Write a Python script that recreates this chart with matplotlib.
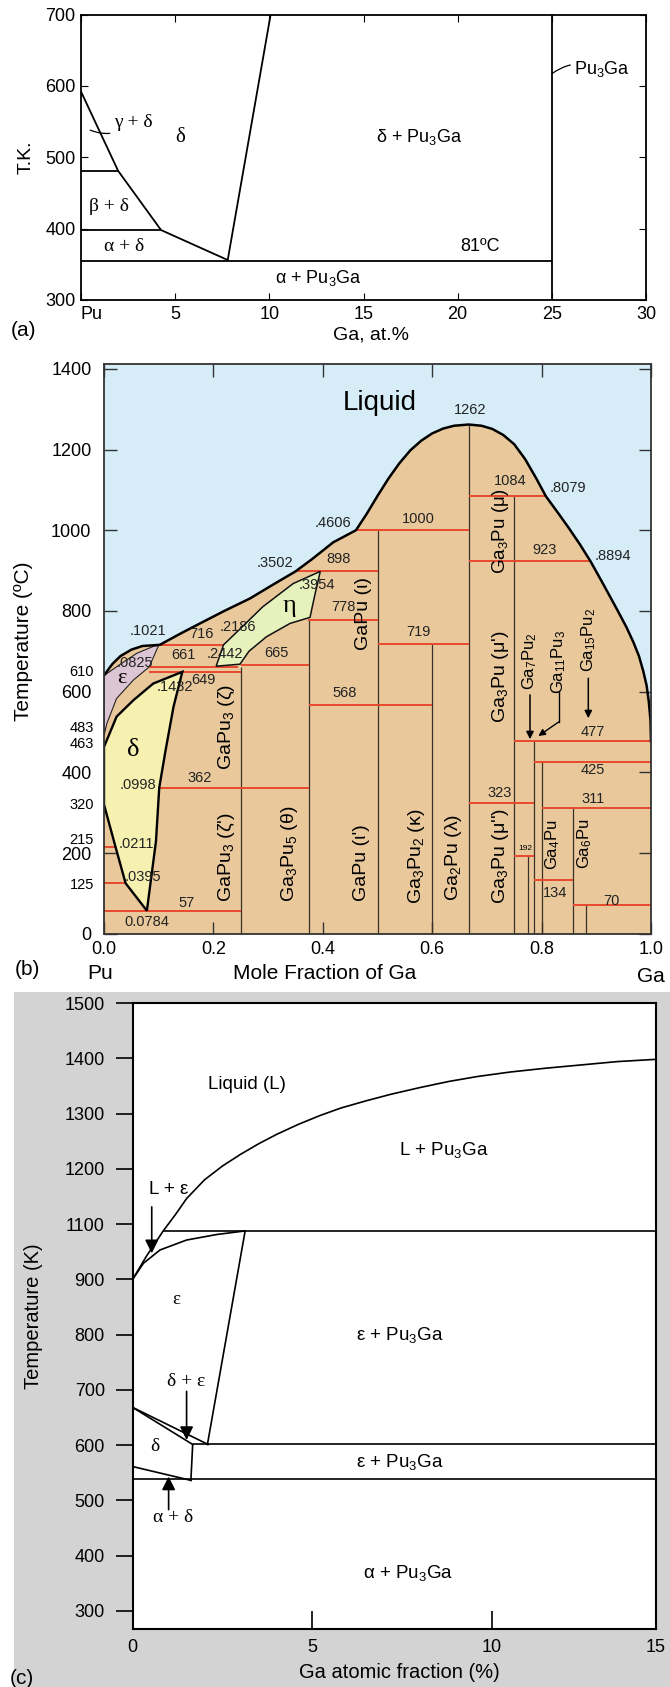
import numpy as np
import matplotlib
matplotlib.use("Agg")
import matplotlib.pyplot as plt
from matplotlib.patches import Polygon, Rectangle

plt.rcParams['font.family'] = ['Liberation Sans', 'DejaVu Sans']
plt.rcParams['mathtext.fontset'] = 'custom'
plt.rcParams['mathtext.rm'] = 'Liberation Sans'
plt.rcParams['mathtext.it'] = 'Liberation Sans:italic'
plt.rcParams['mathtext.bf'] = 'Liberation Sans:bold'

SERIF = ['Liberation Serif', 'DejaVu Serif']
NARROW = ['Liberation Sans Narrow', 'Liberation Sans']

# ---------------- panel (a) data : Pu-Ga low temperature (K) ----------------
a_bound_x = [0.0, 1.97, 4.25, 7.79]
a_bound_T = [592, 481, 398, 356]
a_solvus_x = [7.79, 10.07]
a_solvus_T = [356, 700]
a_iso_T = [481, 398, 355]
a_iso_x1 = [1.97, 4.25, 25.0]
a_pu3ga_x = 25.0
a_xticks = [0, 5, 10, 15, 20, 25, 30]
a_xticklabels = ['Pu', '5', '10', '15', '20', '25', '30']
a_yticks = [300, 400, 500, 600, 700]

# ---------------- panel (b) data : full Ga-Pu diagram (deg C) ----------------
b_liq_x = [0, 0.015, 0.03, 0.05, 0.07, 0.1021, 0.14, 0.1755, 0.22, 0.267, 0.31, 0.3502,
           0.38, 0.419, 0.4606, 0.48, 0.50, 0.52, 0.54, 0.56, 0.58, 0.60, 0.62, 0.64,
           0.6667, 0.69, 0.71, 0.73, 0.75, 0.77, 0.79, 0.8079, 0.83, 0.85, 0.87, 0.8894,
           0.91, 0.937, 0.955, 0.968, 0.978, 0.986, 0.992, 0.996, 0.999, 1.0]
b_liq_T = [640, 668, 688, 704, 713, 716, 744, 769, 800, 831, 866, 898,
           928, 970, 1000, 1040, 1085, 1128, 1166, 1198, 1222, 1240, 1252, 1259,
           1262, 1259, 1251, 1236, 1213, 1176, 1129, 1084, 1043, 1005, 965, 923,
           873, 806, 760, 722, 688, 650, 615, 575, 530, 477]

b_eps_x = [0, 0.03, 0.06, 0.09, 0.1, 0.0825, 0.054, 0.023, 0.005, 0]
b_eps_T = [640, 668, 695, 712, 715, 661, 629, 583, 520, 490]

b_delta_x = [0, 0.023, 0.054, 0.09, 0.1432, 0.127, 0.112, 0.101, 0.095, 0.0784, 0.0395, 0.0211, 0]
b_delta_T = [463, 538, 579, 620, 649, 562, 450, 362, 229, 57, 125, 215, 320]

b_eta_x = [0.205, 0.2186, 0.25, 0.29, 0.346, 0.3954, 0.386, 0.3766, 0.34, 0.297, 0.265, 0.2486]
b_eta_T = [663, 716, 757, 810, 868, 898, 843, 784, 769, 736, 700, 668]

# compounds: composition and top of the vertical line
b_comp_x = [0.25, 0.375, 0.5, 0.6, 0.6667, 0.75, 0.776, 0.786, 0.8, 0.857, 0.882]
b_comp_top = [661, 778, 1000, 719, 1262, 1084, 192, 477, 425, 311, 70]

# isotherms: temperature, start, end
b_iso_T = [1084, 1000, 923, 898, 778, 719, 716, 665, 661, 649, 568,
           477, 425, 362, 323, 311, 215, 192, 134, 125, 70, 57]
b_iso_x0 = [0.6667, 0.4606, 0.6667, 0.3502, 0.3735, 0.5, 0.1021, 0.25, 0.0825, 0.0825, 0.375,
            0.75, 0.786, 0.0998, 0.6667, 0.8, 0.0, 0.75, 0.786, 0.0, 0.857, 0.0]
b_iso_x1 = [0.8079, 0.6667, 0.8894, 0.5, 0.5, 0.6667, 0.2186, 0.375, 0.2442, 0.25, 0.6,
            1.0, 1.0, 0.375, 0.786, 1.0, 0.0211, 0.786, 0.857, 0.0395, 1.0, 0.25]

b_num_labels = ['.4606', '.3502', '898', '.3954', '778', '.1021', '716', '.2186', '661',
                '.2442', '665', '.0825', '.1432', '649', '.0998', '362', '.0211', '.0395',
                '57', '0.0784', '1262', '1084', '.8079', '1000', '923', '.8894', '719',
                '568', '323', '134', '70', '477', '425', '311']
b_num_x = [0.419, 0.3126, 0.4283, 0.3886, 0.4375, 0.081, 0.1773, 0.2455, 0.145,
           0.2212, 0.3157, 0.0567, 0.13, 0.1815, 0.0627, 0.1755, 0.0597, 0.072,
           0.151, 0.078, 0.669, 0.742, 0.849, 0.5746, 0.805, 0.931, 0.5746,
           0.4406, 0.724, 0.8245, 0.928, 0.8933, 0.8928, 0.8946]
b_num_T = [1019, 919, 928, 864, 810, 751, 744, 761, 690,
           692, 695, 672, 612, 629, 368, 387, 222, 140,
           77, 30, 1298, 1122, 1104, 1029, 951, 936, 748,
           596, 348, 100, 81, 500, 406, 335]

b_phase_labels = ['GaPu$_3$ (ζ)', "GaPu$_3$ (ζ')", 'Ga$_3$Pu$_5$ (θ)', 'GaPu (ι)', "GaPu (ι')",
                  'Ga$_3$Pu$_2$ (κ)', 'Ga$_2$Pu (λ)', 'Ga$_3$Pu (μ)', "Ga$_3$Pu (μ')",
                  "Ga$_3$Pu (μ'')", 'Ga$_4$Pu', 'Ga$_6$Pu']
b_phase_x = [0.2243, 0.2243, 0.34, 0.474, 0.471, 0.5716, 0.6386, 0.724, 0.724, 0.724, 0.8196, 0.879]
b_phase_T = [513, 190, 199, 794, 176, 192, 188, 996, 637, 192, 221, 223]
b_phase_fs = [14, 14, 14, 14, 14, 14, 14, 13.5, 14, 14, 12, 12]

b_side_labels = ['610', '483', '463', '320', '215', '125']
b_side_pos = [649, 511, 470, 319, 232, 121]

# ---------------- panel (c) data : Pu-rich corner (K) ----------------
c_liq_x = [0, 0.39, 0.85, 1.2, 1.5, 2.0, 2.5, 3.0, 3.5, 4.0, 4.6, 5.2, 5.8, 6.5,
           7.2, 8.0, 8.8, 9.6, 10.5, 11.5, 12.5, 13.5, 14.56]
c_liq_K = [900, 985, 1075, 1118, 1146, 1180, 1205, 1226, 1245, 1262, 1280, 1296, 1310, 1323,
           1335, 1347, 1358, 1367, 1375, 1382, 1388, 1394, 1398]
c_sol_x = [0, 0.3, 0.76, 1.5, 2.34, 3.13]
c_sol_K = [900, 958, 1006, 1042, 1062, 1075]
c_solv_x = [3.13, 2.08]
c_solv_K = [1075, 601]
c_de_up_x = [0, 2.1]
c_de_up_K = [668, 601]
c_de_lo_x = [0, 1.67]
c_de_lo_K = [668, 601]
c_d_right_x = [1.67, 1.62]
c_d_right_K = [601, 536]
c_ad_x = [0, 1.62]
c_ad_K = [561, 536]
c_iso_K = [1075, 601, 538]
c_iso_x0 = [0.85, 1.67, 0.0]
c_xmax = 14.56
c_yticks = [300, 400, 500, 600, 700, 800, 900, 1100, 1200, 1300, 1400, 1500]


def c_fwd(k):
    k = np.asarray(k, dtype=float)
    return np.where(k <= 900, (k - 300) / 100,
                    np.where(k < 1100, 6 + (k - 900) / 200, 7 + (k - 1100) / 100))


def c_inv(p):
    p = np.asarray(p, dtype=float)
    return np.where(p <= 6, 300 + 100 * p,
                    np.where(p < 7, 900 + 200 * (p - 6), 1100 + 100 * (p - 7)))


W, H = 670, 1687
fig = plt.figure(figsize=(W / 100, H / 100), dpi=100)

# grey backdrop of panel (c)
fig.add_artist(Rectangle((14 / W, 0), 1, 1 - 992 / H, transform=fig.transFigure,
                         facecolor='#d3d3d3', edgecolor='none', zorder=-5))

# ======================= panel (a) =======================
ax = fig.add_axes([81 / W, 1 - 300 / H, 565 / W, 285.5 / H])
ax.set_xlim(0, 30)
ax.set_ylim(300, 700)
ax.plot(a_bound_x, a_bound_T, color='k', lw=1.3)
ax.plot(a_solvus_x, a_solvus_T, color='k', lw=1.3)
ax.hlines(a_iso_T, 0, a_iso_x1, color='k', lw=1.3)
ax.vlines(a_pu3ga_x, 300, 700, color='k', lw=1.3)
ax.set_xticks(a_xticks)
ax.set_xticklabels(a_xticklabels)
ax.set_yticks(a_yticks)
ax.tick_params(direction='in', length=5, top=True, right=True, labelsize=13, pad=4)
ax.get_xticklabels()[0].set_horizontalalignment('left')
for s in ax.spines.values():
    s.set_linewidth(1.3)
ax.set_ylabel('T.K.', fontsize=14, va='center')
ax.yaxis.set_label_coords(-0.098, 0.5)
ax.set_xlabel('Ga, at.%', fontsize=14, va='center')
ax.xaxis.set_label_coords(0.514, -0.123)

ax.text(5.28, 527, 'δ', fontsize=15, family=SERIF, ha='center', va='center')
ax.text(1.51, 431, 'β + δ', fontsize=14, family=SERIF, ha='center', va='center')
ax.text(2.31, 375, 'α + δ', fontsize=14, family=SERIF, ha='center', va='center')
ax.text(17.94, 529, 'δ + Pu$_3$Ga', fontsize=13, ha='center', va='center')
ax.text(12.58, 331, 'α + Pu$_3$Ga', fontsize=13, ha='center', va='center')
ax.text(21.2, 375, '81ºC', fontsize=13, ha='center', va='center')
ax.annotate('γ + δ', xy=(0.49, 538), xytext=(1.75, 548), fontsize=14, family=SERIF,
            ha='left', va='center',
            arrowprops=dict(arrowstyle='-', lw=0.9, color='k',
                            connectionstyle='arc3,rad=-0.3', shrinkA=1, shrinkB=0))
ax.annotate('Pu$_3$Ga', xy=(25.0, 617), xytext=(26.2, 623), fontsize=13,
            ha='left', va='center',
            arrowprops=dict(arrowstyle='-', lw=0.9, color='k',
                            connectionstyle='arc3,rad=0.3', shrinkA=1, shrinkB=0))
fig.text(23.6 / W, 1 - 331 / H, '(a)', fontsize=15, ha='center', va='center')

# ======================= panel (b) =======================
bx = fig.add_axes([104 / W, 1 - 933.7 / H, 547 / W, 569.7 / H])
bx.set_xlim(0, 1)
bx.set_ylim(0, 1412)
bx.set_facecolor('#d6edf8')
beige_x = [0] + b_liq_x + [1.0]
beige_T = [0] + b_liq_T + [0]
bx.fill(beige_x, beige_T, color='#e9c99c', lw=0, zorder=1)
bx.add_patch(Polygon(np.column_stack([b_eps_x, b_eps_T]), closed=True,
                     facecolor='#dcc5d4', edgecolor='#222222', lw=0.8, zorder=2))
bx.add_patch(Polygon(np.column_stack([b_eta_x, b_eta_T]), closed=True,
                     facecolor='#e7f1bc', edgecolor='#111111', lw=1.1, zorder=4))
bx.vlines(b_comp_x, 0, b_comp_top, colors='#3c3127', lw=0.9, zorder=2)
bx.hlines(b_iso_T, b_iso_x0, b_iso_x1, colors='#e8492d', lw=1.4, zorder=3)
bx.add_patch(Polygon(np.column_stack([b_delta_x, b_delta_T]), closed=True,
                     facecolor='#f6f1b1', edgecolor='k', lw=1.7, zorder=5))
bx.plot(b_liq_x, b_liq_T, color='k', lw=1.8, zorder=6)

bx.set_xticks([0, 0.2, 0.4, 0.6, 0.8, 1.0])
bx.set_xticklabels(['0.0', '0.2', '0.4', '0.6', '0.8', '1.0'])
bx.set_yticks([0, 200, 400, 600, 800, 1000, 1200, 1400])
bx.tick_params(direction='in', length=9, width=1.0, top=True, right=True,
               labelsize=13, color='#333333')
bx.tick_params(axis='y', pad=9)
bx.tick_params(axis='x', pad=5)
for s in bx.spines.values():
    s.set_linewidth(1.3)
    s.set_color('#333333')
    s.set_zorder(8)
bx.set_ylabel('Temperature (ºC)', fontsize=15, va='center')
bx.yaxis.set_label_coords(-0.148, 0.514)

for lab, x, t in zip(b_num_labels, b_num_x, b_num_T):
    bx.text(x, t, lab, fontsize=10.5, family=NARROW, ha='center', va='center', zorder=7,
            color='#222222')
bx.text(0.771, 212, '192', fontsize=6, family=NARROW, ha='center', va='center', zorder=7)
for lab, x, t, fs in zip(b_phase_labels, b_phase_x, b_phase_T, b_phase_fs):
    bx.text(x, t, lab, fontsize=fs, rotation=90, ha='center', va='center',
            rotation_mode='anchor', zorder=7)
for lab, t in zip(b_side_labels, b_side_pos):
    bx.text(-0.041, t, lab, fontsize=10.5, family=NARROW, ha='center', va='center',
            clip_on=False)

bx.text(0.5033, 1316, 'Liquid', fontsize=20, ha='center', va='center', zorder=7)
bx.text(0.0536, 455, 'δ', fontsize=19, family=SERIF, ha='center', va='center', zorder=7)
bx.text(0.3399, 812, 'η', fontsize=19, family=SERIF, ha='center', va='center', zorder=7)
bx.text(0.032, 633, 'ε', fontsize=16, family=SERIF, ha='center', va='center', zorder=7)

# small compounds with arrows
bx.text(0.7788, 676, 'Ga$_7$Pu$_2$', fontsize=12, rotation=90, ha='center', va='center',
        rotation_mode='anchor', zorder=7)
bx.annotate('', xy=(0.7788, 482), xytext=(0.7788, 592), zorder=7,
            arrowprops=dict(arrowstyle='-|>', lw=1.1, color='k', mutation_scale=11,
                            shrinkA=0, shrinkB=0))
bx.text(0.8306, 674, 'Ga$_{11}$Pu$_3$', fontsize=12, rotation=90, ha='center', va='center',
        rotation_mode='anchor', zorder=7)
bx.plot([0.8315, 0.8315], [600, 525], color='k', lw=1.0, zorder=7)
bx.annotate('', xy=(0.794, 490), xytext=(0.8315, 525), zorder=7,
            arrowprops=dict(arrowstyle='-|>', lw=1.0, color='k', mutation_scale=10,
                            shrinkA=0, shrinkB=0))
bx.text(0.8854, 728, 'Ga$_{15}$Pu$_2$', fontsize=12, rotation=90, ha='center', va='center',
        rotation_mode='anchor', zorder=7)
bx.annotate('', xy=(0.8854, 534), xytext=(0.8854, 633), zorder=7,
            arrowprops=dict(arrowstyle='-|>', lw=1.1, color='k', mutation_scale=11,
                            shrinkA=0, shrinkB=0))

bx.text(-0.007, -0.069, 'Pu', transform=bx.transAxes, fontsize=15, ha='center', va='center')
bx.text(0.404, -0.069, 'Mole Fraction of Ga', transform=bx.transAxes, fontsize=15,
        ha='center', va='center')
bx.text(1.0, -0.076, 'Ga', transform=bx.transAxes, fontsize=15, ha='center', va='center')
fig.text(27 / W, 1 - 970 / H, '(b)', fontsize=15, ha='center', va='center')

# ======================= panel (c) =======================
cx = fig.add_axes([132.7 / W, 1 - 1629 / H, 523 / W, 626 / H])
cx.set_yscale('function', functions=(c_fwd, c_inv))
cx.set_xlim(0, c_xmax)
cx.set_ylim(267, 1500)
lk = dict(color='k', lw=1.2)
cx.plot(c_liq_x, c_liq_K, **lk)
cx.plot(c_sol_x, c_sol_K, **lk)
cx.plot(c_solv_x, c_solv_K, **lk)
cx.plot(c_de_up_x, c_de_up_K, **lk)
cx.plot(c_de_lo_x, c_de_lo_K, **lk)
cx.plot(c_d_right_x, c_d_right_K, **lk)
cx.plot(c_ad_x, c_ad_K, **lk)
cx.hlines(c_iso_K, c_iso_x0, c_xmax, colors='k', lw=1.2)

cx.set_yticks(c_yticks)
cx.set_yticklabels([str(v) for v in c_yticks])
cx.yaxis.set_minor_locator(matplotlib.ticker.NullLocator())
cx.set_xticks([0, 5, 10, c_xmax])
cx.set_xticklabels(['0', '5', '10', '15'])
cx.tick_params(axis='y', direction='out', length=12, width=1.2, labelsize=13, pad=8)
cx.tick_params(axis='x', direction='in', length=13, width=1.2, labelsize=13, pad=7)
for s in cx.spines.values():
    s.set_linewidth(1.5)
cx.set_ylabel('Temperature (K)', fontsize=14.5, va='center')
cx.yaxis.set_label_coords(-0.19, 0.5)
cx.set_xlabel('Ga atomic fraction (%)', fontsize=14.5, va='center')
cx.xaxis.set_label_coords(0.51, -0.069)

cx.text(3.17, 1352, 'Liquid (L)', fontsize=13.5, ha='center', va='center')
cx.text(8.65, 1234, 'L + Pu$_3$Ga', fontsize=13.5, ha='center', va='center')
cx.text(0.99, 1162, 'L + ε', fontsize=13.5, ha='center', va='center')
cx.text(1.22, 863, 'ε', fontsize=13.5, family=SERIF, ha='center', va='center')
cx.text(7.44, 799, 'ε + Pu$_3$Ga', fontsize=13.5, ha='center', va='center')
cx.text(1.5, 715, 'δ + ε', fontsize=14, family=SERIF, ha='center', va='center')
cx.text(0.62, 597, 'δ', fontsize=14, family=SERIF, ha='center', va='center')
cx.text(7.43, 570, 'ε + Pu$_3$Ga', fontsize=13.5, ha='center', va='center')
cx.text(1.13, 468, 'α + δ', fontsize=14, family=SERIF, ha='center', va='center')
cx.text(7.66, 369, 'α + Pu$_3$Ga', fontsize=13.5, ha='center', va='center')
arrow_kw = dict(arrowstyle='-|>', lw=1.2, color='k', mutation_scale=20, shrinkA=0, shrinkB=0)
cx.annotate('', xy=(0.53, 994), xytext=(0.53, 1131), arrowprops=arrow_kw)
cx.annotate('', xy=(1.5, 609), xytext=(1.5, 697), arrowprops=arrow_kw)
cx.annotate('', xy=(1.0, 543), xytext=(1.0, 483), arrowprops=arrow_kw)
fig.text(22 / W, 1 - 1678 / H, '(c)', fontsize=15, ha='center', va='center')

fig.savefig('out.png', dpi=100)
